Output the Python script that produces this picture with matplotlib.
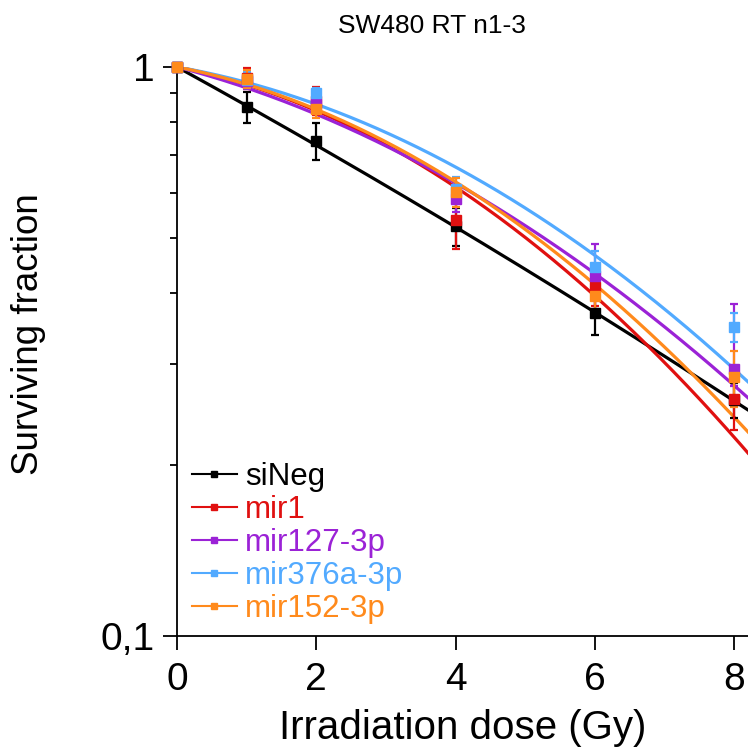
import numpy as np
import matplotlib
matplotlib.use('Agg')
import matplotlib.pyplot as plt
from matplotlib.lines import Line2D
from matplotlib.ticker import FixedLocator, FixedFormatter, NullFormatter

plt.rcParams['font.family'] = ['Liberation Sans', 'DejaVu Sans']

# measured points
dose = [0, 1, 2, 4, 6, 8]

labels = ['siNeg', 'mir1', 'mir127-3p', 'mir376a-3p', 'mir152-3p']
colors = ['#000000', '#e01010', '#9b22d6', '#52aaff', '#ff8a1c']

sf_sineg = [1.0, 0.850, 0.741, 0.525, 0.370, 0.260]
sf_mir1 = [1.0, 0.955, 0.872, 0.539, 0.410, 0.261]
sf_mir127 = [1.0, 0.945, 0.861, 0.586, 0.429, 0.295]
sf_mir376a = [1.0, 0.950, 0.900, 0.610, 0.445, 0.349]
sf_mir152 = [1.0, 0.953, 0.844, 0.603, 0.396, 0.285]

err_sineg = [0, 0.053, 0.056, 0.040, 0.032, 0.018]
err_mir1 = [0, 0.040, 0.050, 0.060, 0.030, 0.031]
err_mir127 = [[0, 0.030, 0.030, 0.030, 0.060, 0.020],
              [0, 0.030, 0.030, 0.030, 0.060, 0.088]]
err_mir376a = [0, 0.030, 0.020, 0.030, 0.030, 0.020]
err_mir152 = [0, 0.035, 0.030, 0.036, 0.030, 0.032]

# linear-quadratic fit parameters (alpha, beta) of the drawn curves
alpha = [0.155, 0.0558, 0.0739, 0.0497, 0.0554]
beta = [0.00174, 0.01643, 0.0109, 0.01289, 0.01521]


def entry():
    sf_list = [sf_sineg, sf_mir1, sf_mir127, sf_mir376a, sf_mir152]
    err_list = [err_sineg, err_mir1, err_mir127, err_mir376a, err_mir152]

    fig = plt.figure(figsize=(7.48, 7.52), dpi=100)
    ax = fig.add_axes([0.2366, 0.1543, 0.7634, 0.7567])

    d = np.linspace(0, 8.2, 300)
    for i in range(len(labels)):
        fit = np.exp(-(alpha[i] * d + beta[i] * d ** 2))
        ax.plot(d, fit, color=colors[i], lw=2.3, zorder=2)

    for i in range(len(labels)):
        ax.errorbar(dose, sf_list[i], yerr=err_list[i], fmt='s', color=colors[i],
                    ms=7, elinewidth=1.6, capsize=3, capthick=1.6, zorder=3,
                    clip_on=False)

    ax.set_yscale('log')
    ax.set_ylim(0.1, 1)
    ax.set_xlim(0, 8.2)

    ax.yaxis.set_major_locator(FixedLocator([0.1, 1]))
    ax.yaxis.set_major_formatter(FixedFormatter(['0,1', '1']))
    ax.yaxis.set_minor_locator(FixedLocator([0.2, 0.3, 0.4, 0.5, 0.6, 0.7, 0.8, 0.9]))
    ax.yaxis.set_minor_formatter(NullFormatter())
    ax.set_xticks([0, 2, 4, 6, 8])

    for side in ['top', 'right']:
        ax.spines[side].set_visible(False)
    for side in ['left', 'bottom']:
        ax.spines[side].set_linewidth(1.3)

    ax.tick_params(axis='both', which='major', direction='out', length=10,
                   width=1.3, labelsize=28, pad=6)
    ax.tick_params(axis='x', which='major', pad=9)
    ax.tick_params(axis='y', which='minor', direction='out', length=5, width=1.3)

    ax.set_xlabel('Irradiation dose (Gy)', fontsize=29, labelpad=8)
    ax.set_ylabel('Surviving fraction', fontsize=26.5, labelpad=39, y=0.53)

    fig.text(0.578, 0.965, 'SW480 RT n1-3', fontsize=19, ha='center', va='center')

    handles = [Line2D([], [], color=c, lw=1.5, marker='s', ms=4) for c in colors]
    leg = ax.legend(handles, labels, loc='lower left', bbox_to_anchor=(0.015, 0.01),
                    frameon=False, fontsize=22.5, handlelength=1.45, handletextpad=0.25,
                    labelspacing=0.1, borderpad=0.2, borderaxespad=0.0)
    for text, c in zip(leg.get_texts(), colors):
        text.set_color(c)

    fig.savefig('out.png', dpi=100)


if __name__ == '__main__':
    entry()
